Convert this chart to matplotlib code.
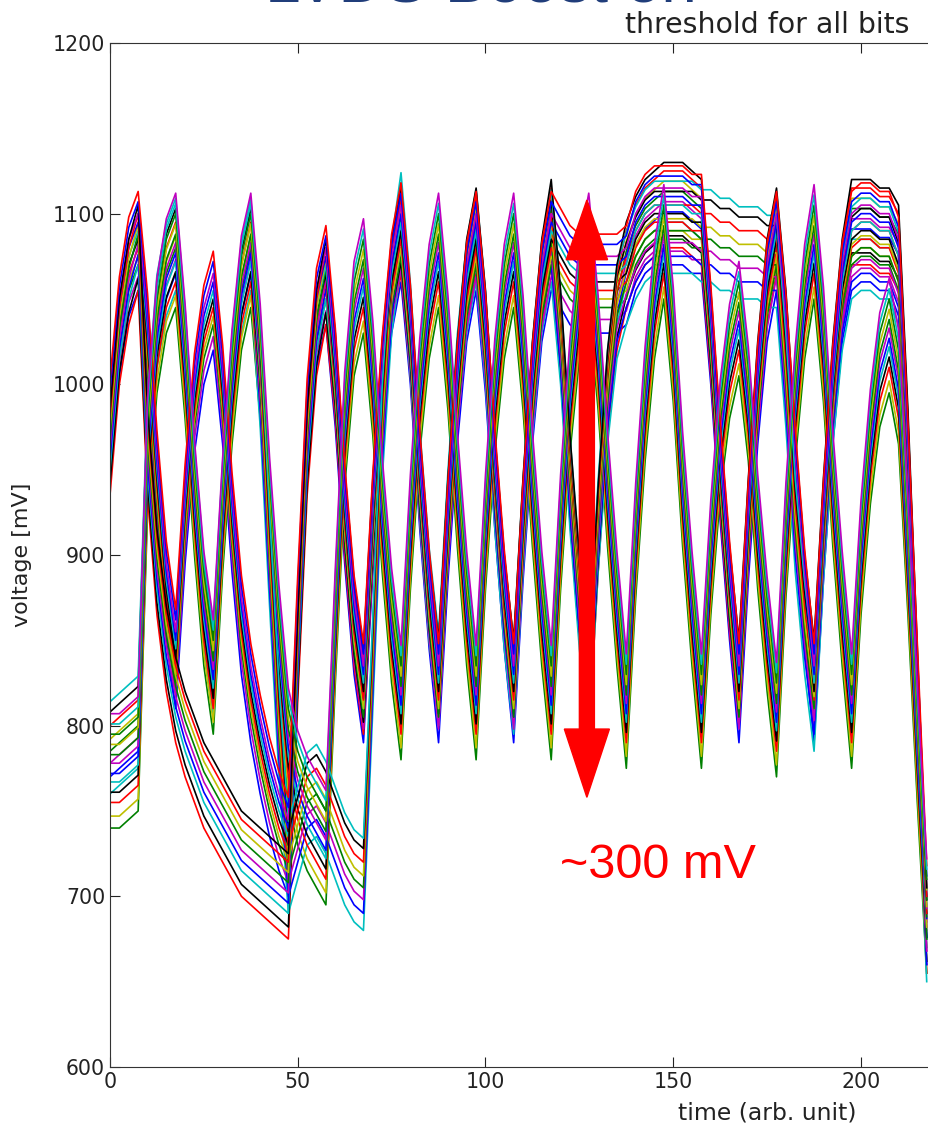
import numpy as np
import matplotlib
matplotlib.use('Agg')
import matplotlib.pyplot as plt

# sample times (arb. unit), one value every 2.5 units
t = np.arange(0, 220, 2.5)

# four bundles of bits, values in mV
# bits A: 1 0 1 0 0 1 0 1 0 1 0 1 1 1 1 1 0 1 0 1 1 0
volt_a = [975, 1035, 1070, 1085,
          1025, 945, 880, 840,
          925, 990, 1030, 1050,
          995, 920, 860, 820,
          790, 765, 745, 730,
          860, 975, 1040, 1065,
          1005, 925, 860, 820,
          920, 1000, 1060, 1090,
          1030, 945, 875, 820,
          915, 995, 1055, 1085,
          1025, 945, 875, 820,
          915, 995, 1055, 1085,
          1075, 1065, 1060, 1060,
          1060, 1060, 1060, 1065,
          1085, 1095, 1100, 1100,
          1100, 1100, 1095, 1095,
          1030, 950, 880, 820,
          915, 995, 1055, 1085,
          1025, 945, 875, 820,
          915, 995, 1055, 1085,
          1090, 1090, 1085, 1085,
          1070, 950, 820, 690]
# bits B: 0 1 0 1 0 0 1 0 1 0 1 0 1 0 1 0 1 0 1 0 1 0
volt_b = [775, 775, 780, 785,
          960, 1030, 1065, 1080,
          1015, 935, 870, 830,
          925, 1000, 1055, 1080,
          1015, 925, 850, 790,
          765, 750, 740, 730,
          860, 975, 1040, 1065,
          1005, 925, 860, 815,
          915, 995, 1050, 1080,
          1020, 940, 870, 815,
          915, 995, 1050, 1080,
          1020, 940, 870, 815,
          915, 995, 1050, 1080,
          1020, 940, 870, 810,
          910, 990, 1050, 1085,
          1025, 940, 870, 810,
          900, 970, 1015, 1040,
          990, 915, 855, 805,
          910, 990, 1050, 1085,
          1025, 940, 870, 810,
          900, 965, 1010, 1030,
          1000, 900, 790, 690]
# bits C: 1 0 0 0 0 1 0 1 0 1 0 1 0 1 1 1 0 1 0 1 1 0
volt_c = [960, 1025, 1060, 1080,
          960, 890, 845, 815,
          795, 780, 765, 755,
          745, 735, 725, 720,
          715, 710, 705, 700,
          840, 960, 1030, 1060,
          1005, 925, 860, 820,
          920, 1000, 1060, 1090,
          1030, 945, 875, 825,
          920, 1000, 1060, 1090,
          1030, 945, 875, 825,
          920, 1000, 1060, 1095,
          1030, 945, 875, 820,
          915, 995, 1045, 1070,
          1085, 1095, 1100, 1105,
          1105, 1105, 1100, 1095,
          1030, 950, 880, 825,
          920, 1000, 1060, 1090,
          1030, 945, 875, 825,
          920, 1000, 1060, 1095,
          1095, 1095, 1090, 1090,
          1080, 960, 820, 680]
# bits D: 0 1 0 1 0 0 0 1 0 1 0 1 0 1 1 1 1 1 0 1 1 0
volt_d = [790, 795, 800, 805,
          970, 1040, 1070, 1085,
          1020, 940, 875, 835,
          930, 1005, 1060, 1085,
          1005, 900, 800, 720,
          740, 760, 765, 755,
          740, 725, 715, 710,
          840, 975, 1060, 1100,
          1035, 950, 880, 830,
          925, 1005, 1060, 1090,
          1030, 945, 875, 825,
          920, 1000, 1060, 1090,
          1030, 945, 875, 825,
          920, 995, 1045, 1065,
          1080, 1090, 1095, 1095,
          1095, 1095, 1095, 1090,
          1090, 1085, 1085, 1080,
          1080, 1080, 1075, 1075,
          1005, 920, 860, 815,
          915, 995, 1050, 1080,
          1085, 1085, 1080, 1080,
          1065, 940, 810, 680]

# channel to channel spread around each bundle (mV)
shift_a = [-30, -22, -15, -10, -5, 0, 5, 10, 15, 22, 28]
shift_b = [-35, -28, -20, -14, -8, -3, 3, 8, 14, 20, 26, 32]
shift_c = [-25, -18, -10, -4, 2, 8, 14, 20, 25]
shift_d = [-30, -20, -12, -5, 2, 10, 18, 24]

colors = ['b', 'g', 'r', 'c', 'm', 'y', 'k']

fig = plt.figure(figsize=(9.29, 11.28), dpi=100)
ax = fig.add_axes([0.1184, 0.0541, 1.4147, 0.9078])

traces = []
groups = [(volt_a, shift_a), (volt_b, shift_b), (volt_c, shift_c), (volt_d, shift_d)]
longest = max(len(s) for v, s in groups)
for i in range(longest):
    for volt, shift in groups:
        if i < len(shift):
            traces.append(np.array(volt) + shift[i])

for k, tr in enumerate(traces):
    ax.plot(t, tr, color=colors[k % len(colors)], lw=1.2)

ax.set_xlim(0, 350)
ax.set_ylim(600, 1200)
ax.set_xticks(range(0, 201, 50))
ax.set_yticks(range(600, 1201, 100))
ax.tick_params(direction='in', top=True, right=True, labelsize=14.8,
               length=7, colors='#222222', labelcolor='#222222')
for sp in ax.spines.values():
    sp.set_color('#333333')
ax.set_xlabel('time (arb. unit)', fontsize=16.9, color='#222222', labelpad=7)
ax.set_ylabel('voltage [mV]', fontsize=16, color='#222222', labelpad=15)
ax.set_title('threshold for all bits', fontsize=20.4, color='#222222', pad=7)

# red annotation
ax.arrow(127, 935, 0, 1108 - 935 - 35, width=4.0, head_width=11, head_length=35,
         color='#ff0000', length_includes_head=False, zorder=5)
ax.arrow(127, 935, 0, 758 - 935 + 40, width=4.0, head_width=12, head_length=40,
         color='#ff0000', length_includes_head=False, zorder=5)
ax.text(119.8, 711, '~300 mV', color='#ff0000', fontsize=35,
        family='Liberation Sans', ha='left', va='baseline')

# slide heading, cut by the top of the picture
fig.text(265 / 929, 1 - 2.5 / 1128, 'LVDS Boost on', fontsize=46, color='#203d7a',
         ha='left', va='baseline', family='Liberation Sans')

fig.savefig('out.png', dpi=100)
